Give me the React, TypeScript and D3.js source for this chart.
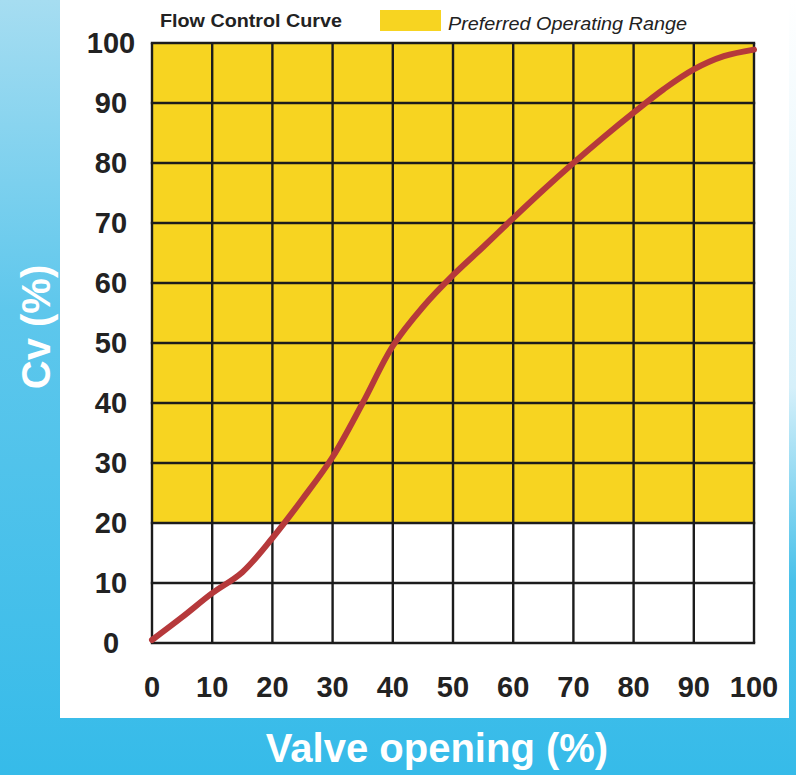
import React from "react";
import * as d3 from "d3";

const valveOpening = [0, 5, 10, 15, 20, 25, 30, 35, 40, 45, 50, 55, 60, 65, 70, 75, 80, 85, 90, 95, 100];
const cvPercent = [0.5, 4.3, 8.3, 11.8, 17.5, 24, 31, 40, 49.5, 56, 61.3, 66, 70.8, 75.5, 80, 84.3, 88.4, 92.3, 95.6, 97.8, 98.9];
const xTicks = [0, 10, 20, 30, 40, 50, 60, 70, 80, 90, 100];
const yTicks = [0, 10, 20, 30, 40, 50, 60, 70, 80, 90, 100];
const preferredRange = [20, 100];

const W = 796;
const H = 775;

export default function App() {
  const x = d3.scaleLinear().domain([0, 100]).range([152, 754]);
  const y = d3.scaleLinear().domain([0, 100]).range([643, 43]);
  const pts: [number, number][] = valveOpening.map((v, i) => [v, cvPercent[i]]);
  const line = d3
    .line<[number, number]>()
    .x((d) => x(d[0]))
    .y((d) => y(d[1]))
    .curve(d3.curveCatmullRom.alpha(0.5));

  const font = "'Liberation Sans', Arial, sans-serif";
  const gridColor = "#1c1c1c";

  return (
    <svg
      width={W}
      height={H}
      style={{ position: "absolute", left: 0, top: 0 }}
      fontFamily={font}
    >
      <defs>
        <linearGradient id="bgBlue" x1="0" y1="0" x2="0" y2="1">
          <stop offset="0" stopColor="#a6ddf1" />
          <stop offset="0.4" stopColor="#5ec7ec" />
          <stop offset="1" stopColor="#36bbe9" />
        </linearGradient>
        <linearGradient id="rightBlue" x1="0" y1="0" x2="0" y2="1">
          <stop offset="0" stopColor="#ffffff" />
          <stop offset="0.5" stopColor="#d6f0fa" />
          <stop offset="0.75" stopColor="#49c1ea" />
          <stop offset="1" stopColor="#36bbe9" />
        </linearGradient>
      </defs>
      <rect x={0} y={0} width={W} height={H} fill="url(#bgBlue)" />
      <rect x={789} y={0} width={W - 789} height={H} fill="url(#rightBlue)" />
      <rect x={60} y={0} width={729} height={718} fill="#ffffff" />

      {/* preferred range */}
      <rect
        x={x(0)}
        y={y(preferredRange[1])}
        width={x(100) - x(0)}
        height={y(preferredRange[0]) - y(preferredRange[1])}
        fill="#f7d421"
      />

      {/* grid */}
      {xTicks.map((t) => (
        <line
          key={"vx" + t}
          x1={x(t)}
          x2={x(t)}
          y1={y(0)}
          y2={y(100)}
          stroke={gridColor}
          strokeWidth={2.4}
        />
      ))}
      {yTicks.map((t) => (
        <line
          key={"hy" + t}
          x1={x(0) - 1.2}
          x2={x(100) + 1.2}
          y1={y(t)}
          y2={y(t)}
          stroke={gridColor}
          strokeWidth={2.4}
        />
      ))}

      {/* curve */}
      <path
        d={line(pts) || ""}
        fill="none"
        stroke="#b6393b"
        strokeWidth={6}
        strokeLinecap="round"
        strokeLinejoin="round"
      />

      {/* tick labels */}
      {yTicks.map((t) => (
        <text
          key={"yl" + t}
          x={111}
          y={y(t)}
          dy="0.36em"
          textAnchor="middle"
          fontSize={29}
          fontWeight="bold"
          fill="#222"
        >
          {t}
        </text>
      ))}
      {xTicks.map((t) => (
        <text
          key={"xl" + t}
          x={x(t)}
          y={697}
          textAnchor="middle"
          fontSize={29}
          fontWeight="bold"
          fill="#222"
        >
          {t}
        </text>
      ))}

      {/* title & legend */}
      <text x={160} y={27} fontSize={18} fontWeight="bold" fill="#222" textLength={182} lengthAdjust="spacingAndGlyphs">
        Flow Control Curve
      </text>
      <rect x={380} y={10} width={61} height={21} fill="#f7d421" />
      <text x={448} y={30} fontSize={19} fontStyle="italic" fill="#222" textLength={239} lengthAdjust="spacingAndGlyphs">
        Preferred Operating Range
      </text>

      {/* axis titles */}
      <text
        x={437}
        y={762}
        textAnchor="middle"
        fontSize={40}
        fontWeight="bold"
        fill="#ffffff"
      >
        Valve opening (%)
      </text>
      <text
        transform="translate(50,327) rotate(-90)"
        textAnchor="middle"
        fontSize={40}
        fontWeight="bold"
        fill="#ffffff"
      >
        Cv (%)
      </text>
    </svg>
  );
}
